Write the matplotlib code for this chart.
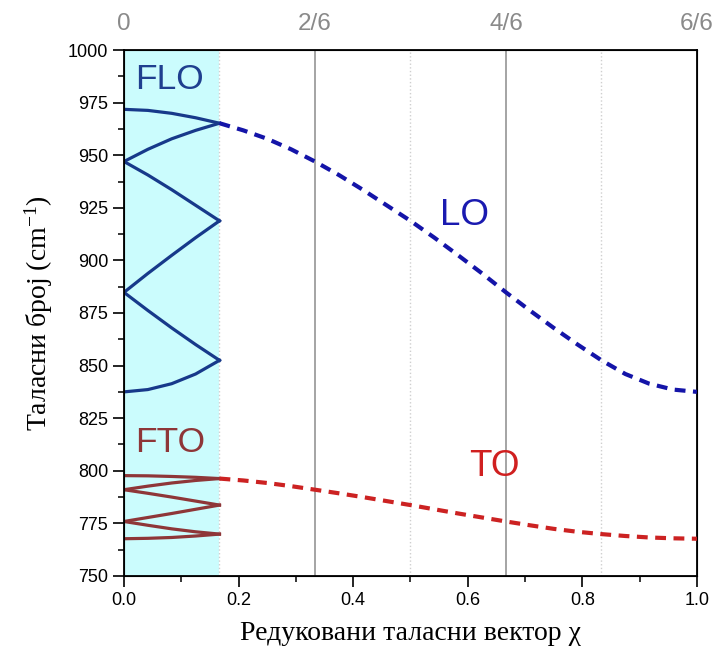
import numpy as np
import matplotlib.pyplot as plt

plt.rcParams['mathtext.fontset'] = 'custom'
plt.rcParams['mathtext.rm'] = 'Liberation Serif'
plt.rcParams['mathtext.it'] = 'Liberation Serif:italic'

# reduced wave vector, sampled every 1/24
q = np.arange(25) / 24

# LO and TO dispersion (cm^-1) over the full zone
lo = [971.8, 971.3, 969.9, 967.8, 965.2, 961.8, 957.8, 952.8, 947.0,
      940.6, 933.6, 926.2, 918.8, 910.8, 902.4, 893.8, 884.8, 876.2,
      867.9, 860.0, 852.5, 846.0, 841.4, 838.6, 837.5]
to = [797.7, 797.6, 797.3, 796.9, 796.3, 795.4, 794.2, 792.7, 791.0,
      789.3, 787.5, 785.6, 783.7, 781.7, 779.7, 777.8, 775.9, 774.1,
      772.4, 771.0, 769.9, 769.0, 768.3, 767.9, 767.7]

n_fold = 6
top_ticks = [0, 2/6, 4/6, 1]
top_labels = ['0', '2/6', '4/6', '6/6']

lo = np.array(lo)
to = np.array(to)

fig = plt.figure(figsize=(7.15, 6.52), dpi=100)
ax = fig.add_axes([0.1734, 0.1166, 0.8014, 0.8067])

# folded zone
ax.axvspan(0, 1/6, color='#cbfcfd', zorder=0, lw=0)
for xv in [1/6, 3/6, 5/6]:
    ax.axvline(xv, color='#cfcfcf', lw=1, ls=':', zorder=1)
for xv in [2/6, 4/6]:
    ax.axvline(xv, color='#8c8c8c', lw=1.1, zorder=1)

# fold each sixth of the zone back into [0, 1/6]
step = len(q) // n_fold
for k in range(n_fold):
    sl = slice(k * step, (k + 1) * step + 1)
    if k % 2 == 0:
        xf = q[sl] - k / 6
    else:
        xf = (k + 1) / 6 - q[sl]
    ax.plot(xf, lo[sl], color='#17398a', lw=2.3, zorder=3, solid_joinstyle='round')
    ax.plot(xf, to[sl], color='#8e3638', lw=2.3, zorder=3, solid_joinstyle='round')

# unfolded dispersion outside the folded zone
ax.plot(q[step:], lo[step:], color='#1414a8', lw=3, ls=(0, (2.6, 1.8)), zorder=3)
ax.plot(q[step:], to[step:], color='#cc2222', lw=3, ls=(0, (2.6, 1.8)), zorder=3)

ax.text(0.08, 986, 'FLO', color='#1f3f8f', fontsize=25.5, ha='center', va='center',
        family='Liberation Sans')
ax.text(0.595, 921.5, 'LO', color='#1a1ab0', fontsize=26.5, ha='center', va='center',
        family='Liberation Sans')
ax.text(0.08, 813.5, 'FTO', color='#8e3638', fontsize=25.5, ha='center', va='center',
        family='Liberation Sans')
ax.text(0.647, 802, 'TO', color='#d02020', fontsize=26.5, ha='center', va='center',
        family='Liberation Sans')

ax.set_xlim(0, 1)
ax.set_ylim(750, 1000)
ax.set_xticks(np.arange(0, 1.01, 0.2))
ax.set_xticks(np.arange(0.1, 1.0, 0.2), minor=True)
ax.set_yticks(np.arange(750, 1001, 25))
ax.set_yticks(np.arange(762.5, 1000, 25), minor=True)
ax.xaxis.set_major_formatter(plt.FuncFormatter(lambda v, p: f'{v:.1f}'))
ax.tick_params(which='major', direction='out', length=8, width=1.2,
               labelsize=13, top=False, right=False)
ax.tick_params(which='minor', direction='out', length=4, width=1.1,
               top=False, right=False)
for lab in ax.get_xticklabels() + ax.get_yticklabels():
    lab.set_family('Liberation Sans')
for s in ax.spines.values():
    s.set_linewidth(1.3)

ax2 = ax.twiny()
ax2.set_xlim(0, 1)
ax2.set_xticks(top_ticks)
ax2.set_xticklabels(top_labels, color='#8a8a8a', fontsize=17.5, family='Liberation Sans')
ax2.tick_params(length=0, pad=11)

ax.set_xlabel('Редуковани таласни вектор χ', family='Liberation Serif', fontsize=20,
              labelpad=9)
ax.set_ylabel('Таласни број (cm$^{-1}$)', family='Liberation Serif', fontsize=20,
              labelpad=9)

fig.savefig('out.png', dpi=100)
